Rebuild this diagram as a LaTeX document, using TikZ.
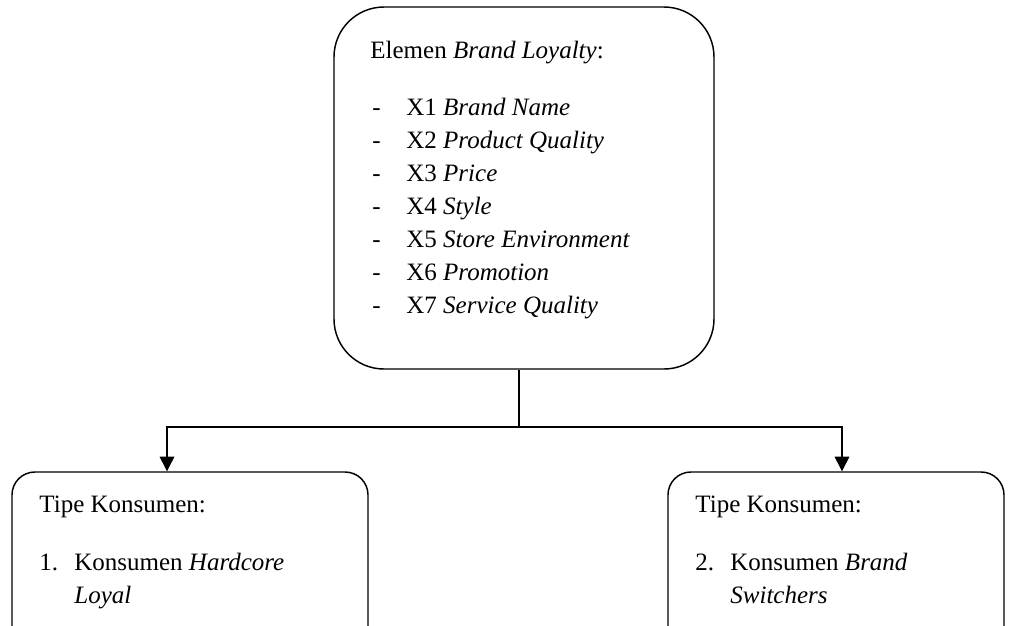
\documentclass[tikz,border=0pt]{standalone}
\usepackage{fontspec}
\setmainfont{Liberation Serif}
\usetikzlibrary{arrows.meta}
\begin{document}
\begin{tikzpicture}[x=0.48pt,y=-0.48pt,
  box/.style={draw, line width=0.7pt, rectangle, inner sep=0pt},
  txt/.style={anchor=base west, inner sep=0pt, font=\fontsize{12}{14}\selectfont},
  conn/.style={line width=0.7pt},
  arr/.style={line width=0.7pt, -{Triangle[length=7pt,width=7pt]}}]
\useasboundingbox (0,0) rectangle (1015,625);
\clip (0,0) rectangle (1015,625);
% boxes
\node[box, rounded corners=24pt, minimum width=380*0.48pt, minimum height=362*0.48pt] (top) at (524,188) {};
\node[box, rounded corners=11pt, minimum width=356*0.48pt, minimum height=180*0.48pt] (lb) at (190,562) {};
\node[box, rounded corners=11pt, minimum width=336*0.48pt, minimum height=180*0.48pt] (rb) at (836,562) {};
% texts top
\node[txt] (t0) at (370,58) {Elemen \textit{Brand Loyalty}:};
\foreach \i/\lab [count=\k from 0] in {1/Brand Name,2/Product Quality,3/Price,4/Style,5/Store Environment,6/Promotion,7/Service Quality}{
  \node[txt] (d\i) at (372,115+33.1*\k) {-};
  \node[txt] (x\i) at (406,115+33.1*\k) {X\i\ \textit{\lab}};
}
% texts left
\node[txt] (l0) at (39,512) {Tipe Konsumen:};
\node[txt] (l1) at (39,570) {1.};
\node[txt] (l2) at (74,570) {Konsumen \textit{Hardcore}};
\node[txt] (l3) at (74,603) {\textit{Loyal}};
% texts right
\node[txt] (r0) at (695,512) {Tipe Konsumen:};
\node[txt] (r1) at (695,570) {2.};
\node[txt] (r2) at (730,570) {Konsumen \textit{Brand}};
\node[txt] (r3) at (730,603) {\textit{Switchers}};
% connectors
\coordinate (split) at (519,427);
\coordinate (la) at (167,472);
\coordinate (ra) at (842,472);
\draw[conn] (top.south -| split) -- (split);
\draw[arr] (split) -| (lb.north -| la);
\draw[arr] (split) -| (rb.north -| ra);
\end{tikzpicture}
\end{document}
